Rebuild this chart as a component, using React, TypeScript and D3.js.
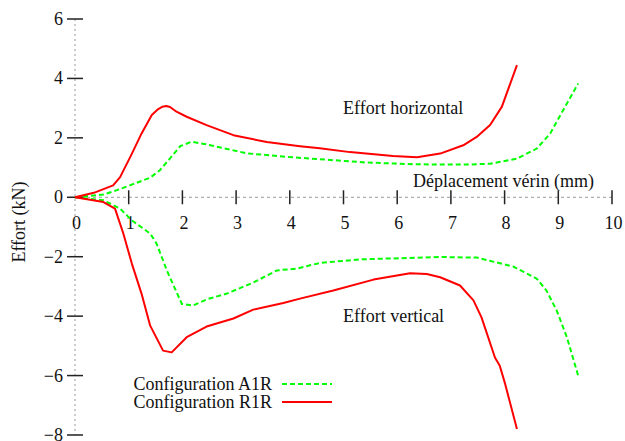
import React from "react";
import * as d3 from "d3";

const xTicks = [1, 2, 3, 4, 5, 6, 7, 8, 9, 10];
const yTicks = [-8, -6, -4, -2, 0, 2, 4, 6];

// Configuration A1R – horizontal force
const a1rHx = [0, 0.53, 0.78, 1.02, 1.4, 1.58, 1.77, 1.96, 2.17, 2.45, 3.2, 3.94, 4.56, 5.43, 6.36, 7.29, 7.73, 8.23, 8.6, 8.85, 9.09, 9.37];
const a1rHy = [0, 0.09, 0.24, 0.4, 0.66, 0.91, 1.31, 1.72, 1.87, 1.78, 1.48, 1.36, 1.28, 1.17, 1.11, 1.1, 1.13, 1.3, 1.64, 2.15, 2.93, 3.83];

// Configuration R1R – horizontal force
const r1rHx = [0, 0.35, 0.71, 0.84, 1.06, 1.24, 1.43, 1.55, 1.63, 1.7, 1.77, 1.89, 2.08, 2.45, 2.95, 3.57, 4.19, 4.56, 5.12, 5.92, 6.37, 6.8, 7.23, 7.48, 7.73, 7.95, 8.23];
const r1rHy = [0, 0.15, 0.4, 0.68, 1.47, 2.15, 2.77, 2.97, 3.05, 3.07, 3.04, 2.88, 2.71, 2.43, 2.09, 1.86, 1.72, 1.65, 1.52, 1.39, 1.35, 1.47, 1.75, 2.03, 2.43, 3.05, 4.45];

// Configuration A1R – vertical force
const a1rVx = [0, 0.53, 0.84, 1.06, 1.4, 1.52, 1.71, 1.99, 2.2, 2.48, 2.83, 3.32, 3.76, 4.13, 4.56, 5.31, 6.05, 6.8, 7.48, 8.16, 8.6, 8.78, 8.97, 9.16, 9.37];
const a1rVy = [0, -0.1, -0.38, -0.78, -1.22, -1.56, -2.46, -3.59, -3.64, -3.42, -3.24, -2.87, -2.46, -2.4, -2.21, -2.09, -2.05, -2.01, -2.03, -2.33, -2.74, -3.14, -3.81, -4.71, -6.0];

// Configuration R1R – vertical force
const r1rVx = [0, 0.53, 0.745, 0.9, 1.06, 1.24, 1.4, 1.64, 1.8, 2.08, 2.45, 2.95, 3.32, 3.88, 4.19, 4.81, 5.56, 6.24, 6.55, 6.8, 7.17, 7.42, 7.57, 7.82, 7.91, 8.01, 8.23];
const r1rVy = [0, -0.16, -0.38, -1.22, -2.24, -3.25, -4.32, -5.16, -5.22, -4.71, -4.35, -4.08, -3.78, -3.56, -3.41, -3.14, -2.77, -2.56, -2.58, -2.69, -2.97, -3.47, -4.04, -5.39, -5.67, -6.28, -7.8];

const GREEN = "#00ff00";
const RED = "#ff0000";
const FONT = "Liberation Serif, Times New Roman, Times, serif";
const FS = 18;

export default function App() {
  const W = 625, H = 441;
  const x = d3.scaleLinear().domain([0, 10]).range([75, 612]);
  const y = d3.scaleLinear().domain([-8, 6]).range([435, 19]);
  const line = (xs: number[], ys: number[]) =>
    d3.line<number>().x((_, i) => x(xs[i])).y((d) => y(d)).curve(d3.curveLinear)(ys) || "";
  const fmt = (v: number) => (v < 0 ? "\u2212" + Math.abs(v) : String(v));

  return (
    <svg width={W} height={H} style={{ position: "absolute", left: 0, top: 0, background: "#fff" }}>
      <line x1={x(0)} x2={x(0)} y1={y(6)} y2={y(-8)} stroke="#999" strokeDasharray="2,3" strokeWidth={1} />
      <line x1={x(0)} x2={x(10)} y1={y(0)} y2={y(0)} stroke="#999" strokeDasharray="3,3" strokeWidth={1} />
      {yTicks.map((t) => (
        <g key={"y" + t}>
          <line x1={x(0) - 8} x2={x(0) + 8} y1={y(t)} y2={y(t)} stroke="#222" strokeWidth={1.5} />
          <text x={63} y={y(t)} dy="0.33em" textAnchor="end" fontFamily={FONT} fontSize={FS} fill="#111">{fmt(t)}</text>
        </g>
      ))}
      {xTicks.map((t) => (
        <line key={"xt" + t} x1={x(t)} x2={x(t)} y1={y(0) - 7} y2={y(0) + 7} stroke="#222" strokeWidth={1.5} />
      ))}
      {[0, ...xTicks].map((t) => (
        <text key={"xl" + t} x={x(t) + 1.5} y={229} textAnchor="middle" fontFamily={FONT} fontSize={FS} fill="#111">{fmt(t)}</text>
      ))}
      <text transform={`translate(25,222) rotate(-90)`} textAnchor="middle" fontFamily={FONT} fontSize={FS} fill="#111">Effort (kN)</text>
      <text x={343} y={114} fontFamily={FONT} fontSize={FS} fill="#111">Effort horizontal</text>
      <text x={413} y={187} fontFamily={FONT} fontSize={FS} fill="#111">Déplacement vérin (mm)</text>
      <text x={343} y={322} fontFamily={FONT} fontSize={FS} fill="#111">Effort vertical</text>

      <path d={line(a1rHx, a1rHy)} fill="none" stroke={GREEN} strokeWidth={2} strokeDasharray="5,3" />
      <path d={line(a1rVx, a1rVy)} fill="none" stroke={GREEN} strokeWidth={2} strokeDasharray="5,3" />
      <path d={line(r1rHx, r1rHy)} fill="none" stroke={RED} strokeWidth={2} strokeLinejoin="round" />
      <path d={line(r1rVx, r1rVy)} fill="none" stroke={RED} strokeWidth={2} strokeLinejoin="round" />

      <text x={272} y={390} textAnchor="end" fontFamily={FONT} fontSize={FS} fill="#111">Configuration A1R</text>
      <line x1={282} x2={332} y1={384} y2={384} stroke={GREEN} strokeWidth={2} strokeDasharray="5,3" />
      <text x={272} y={408} textAnchor="end" fontFamily={FONT} fontSize={FS} fill="#111">Configuration R1R</text>
      <line x1={282} x2={332} y1={402} y2={402} stroke={RED} strokeWidth={2} />
    </svg>
  );
}
